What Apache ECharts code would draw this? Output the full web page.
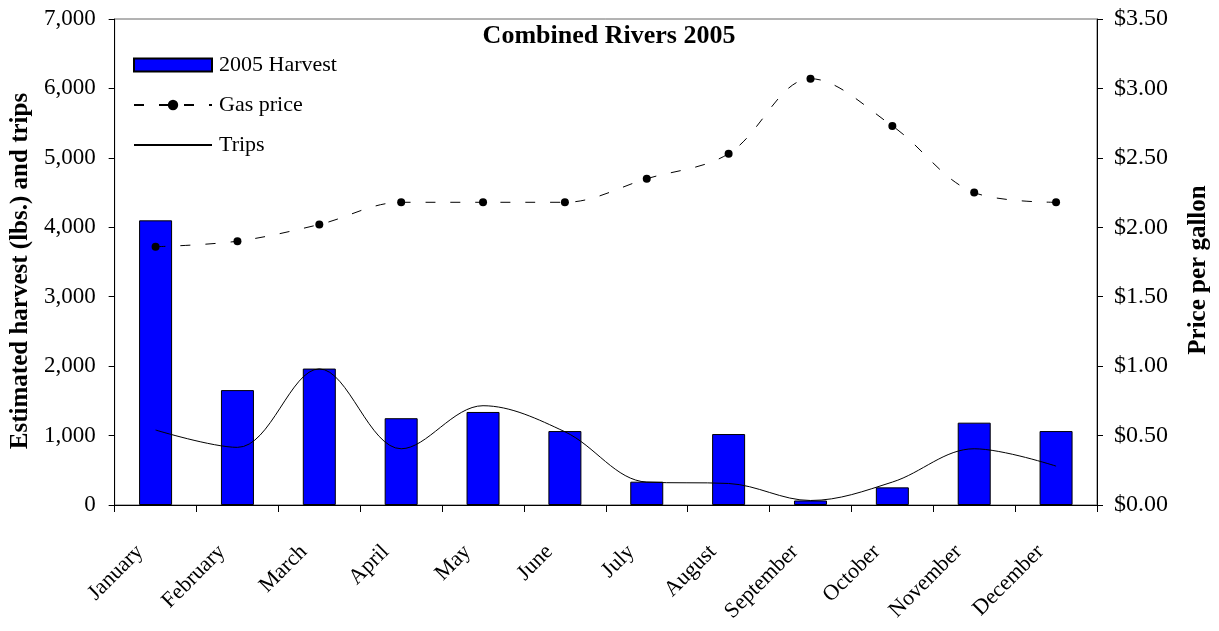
<!DOCTYPE html>
<html>
<head>
<meta charset="utf-8">
<script src="https://cdn.jsdelivr.net/npm/echarts@6/dist/echarts.min.js"></script>
<style>
html,body{margin:0;padding:0;background:#fff;}
#chart{width:1219px;height:631px;}
</style>
</head>
<body>
<div id="chart"></div>
<script>
const months = ['January','February','March','April','May','June','July','August','September','October','November','December'];
const harvest = [4100, 1655, 1965, 1250, 1340, 1065, 336, 1022, 65, 254, 1186, 1065];
const gasPrice = [1.86, 1.90, 2.02, 2.18, 2.18, 2.18, 2.35, 2.53, 3.07, 2.73, 2.25, 2.18];
const trips = [1080, 830, 1960, 810, 1430, 1055, 330, 310, 65, 330, 810, 560];
const titleText = 'Combined Rivers 2005';
const leftAxisName = 'Estimated harvest (lbs.) and trips';
const rightAxisName = 'Price per gallon';
const seriesNames = ['2005 Harvest', 'Gas price', 'Trips'];

const FONT = '"Liberation Serif", "Times New Roman", serif';
const chart = echarts.init(document.getElementById('chart'), null, {renderer: 'canvas'});
chart.setOption({
  backgroundColor: '#fff',
  animation: false,
  textStyle: {fontFamily: FONT, color: '#000'},
  title: {
    text: titleText,
    left: 609, top: 23, textAlign: 'center', padding: 0,
    textStyle: {fontFamily: FONT, fontSize: 26, fontWeight: 'bold', color: '#000'}
  },
  legend: {
    orient: 'vertical',
    left: 133, top: 54, padding: 0,
    itemWidth: 78, itemHeight: 13,
    itemGap: 18,
    textStyle: {fontFamily: FONT, fontSize: 22, color: '#000', padding: [0, 0, 0, 2]},
    data: [
      {name: seriesNames[0], icon: 'rect'},
      {name: seriesNames[1]},
      {name: seriesNames[2], itemStyle: {opacity: 0}}
    ]
  },
  grid: {
    left: 113, right: 121, top: 19, bottom: 126,
    show: true, borderColor: '#666', borderWidth: 1, backgroundColor: 'transparent'
  },
  xAxis: {
    type: 'category',
    data: months,
    boundaryGap: true,
    axisLine: {lineStyle: {color: '#000', width: 1}},
    axisTick: {show: true, alignWithLabel: false, length: 7, lineStyle: {color: '#000'}},
    axisLabel: {rotate: 45, fontFamily: FONT, fontSize: 22, color: '#000', margin: 28,
      padding: [0, 22, 0, 0], interval: 0},
    splitLine: {show: false}
  },
  yAxis: [
    {
      type: 'value', min: 0, max: 7000, interval: 1000,
      name: leftAxisName, nameLocation: 'middle', nameGap: 79, nameRotate: 90,
      nameTextStyle: {fontFamily: FONT, fontSize: 25, fontWeight: 'bold', color: '#000', padding: [0, 18, 0, 0]},
      axisLine: {show: true, lineStyle: {color: '#000'}},
      axisTick: {show: true, length: 6, lineStyle: {color: '#000'}},
      axisLabel: {fontFamily: FONT, fontSize: 23, color: '#000', margin: 19,
        formatter: v => v.toLocaleString('en-US')},
      splitLine: {show: false}
    },
    {
      type: 'value', min: 0, max: 3.5, interval: 0.5, position: 'right',
      name: rightAxisName, nameLocation: 'middle', nameGap: 89, nameRotate: 90,
      nameTextStyle: {fontFamily: FONT, fontSize: 25, fontWeight: 'bold', color: '#000', padding: [0, 16, 0, 0]},
      axisLine: {show: true, lineStyle: {color: '#000'}},
      axisTick: {show: true, length: 6, lineStyle: {color: '#000'}},
      axisLabel: {fontFamily: FONT, fontSize: 24, color: '#000', margin: 17,
        formatter: v => '$' + v.toFixed(2)},
      splitLine: {show: false}
    }
  ],
  series: [
    {
      name: seriesNames[0], type: 'bar', data: harvest, barWidth: 33,
      itemStyle: {color: '#0000FF', borderColor: '#000', borderWidth: 1}
    },
    {
      name: seriesNames[1], type: 'line', yAxisIndex: 1, data: gasPrice,
      smooth: 0.35, symbol: 'circle', symbolSize: 8,
      itemStyle: {color: '#000'},
      lineStyle: {color: '#000', width: 1, type: [10, 15]}
    },
    {
      name: seriesNames[2], type: 'line', data: trips,
      smooth: 0.35, symbol: 'none', showSymbol: false,
      itemStyle: {color: '#000'},
      lineStyle: {color: '#000', width: 1}
    }
  ]
});
</script>
</body>
</html>
